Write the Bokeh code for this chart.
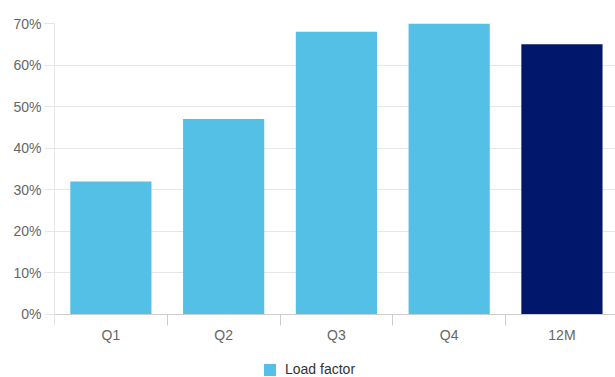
from bokeh.plotting import figure
from bokeh.models import ColumnDataSource, Range1d, FixedTicker, Legend, LegendItem, PrintfTickFormatter
from bokeh.embed import file_html
from bokeh.resources import INLINE

categories = ["Q1", "Q2", "Q3", "Q4", "12M"]
load_factor = [32, 47, 68, 70, 65]
bar_colors = ["#55C0E6", "#55C0E6", "#55C0E6", "#55C0E6", "#00176B"]
y_ticks = [0, 10, 20, 30, 40, 50, 60, 70]

x_pos = [i + 0.5 for i in range(len(categories))]
src = ColumnDataSource(dict(x=x_pos, top=load_factor, color=bar_colors, cat=categories))

FONT = "Liberation Sans"
# frame runs to the bottom of the canvas; the lower part hosts axis labels + legend
p = figure(width=615, height=377, output_backend="svg", toolbar_location=None,
           x_range=Range1d(0, 4.975), y_range=Range1d(-15.16, 70),
           min_border_left=54, min_border_right=0, min_border_top=23, min_border_bottom=0)
p.outline_line_color = None
p.background_fill_color = "white"
p.border_fill_color = "white"

r = p.vbar(x="x", top="top", width=0.72, bottom=0, color="color", source=src, line_color=None)

# x axis: drawn at y=0, labels at centres, ticks at category boundaries
xa = p.xaxis[0]
xa.fixed_location = 0
xa.ticker = FixedTicker(ticks=x_pos, minor_ticks=list(range(len(categories) + 1)))
xa.major_label_overrides = {x: c for x, c in zip(x_pos, categories)}
xa.major_tick_line_color = None
xa.minor_tick_out = 11
xa.minor_tick_in = 0
xa.minor_tick_line_color = "#cccccc"
xa.axis_line_color = "#cccccc"
xa.major_label_text_font = FONT
xa.major_label_text_font_size = "14px"
xa.major_label_text_color = "#666666"
xa.major_label_standoff = 2
p.xgrid.grid_line_color = None

ya = p.yaxis[0]
ya.bounds = (0, 70)
ya.ticker = FixedTicker(ticks=y_ticks)
ya.formatter = PrintfTickFormatter(format="%d%%")
ya.axis_line_color = "#e6e6e6"
ya.major_tick_line_color = "#e6e6e6"
ya.major_tick_out = 10
ya.major_tick_in = 0
ya.minor_tick_line_color = None
ya.major_label_text_font = FONT
ya.major_label_text_font_size = "14px"
ya.major_label_text_color = "#666666"
ya.major_label_standoff = 3
p.ygrid.grid_line_color = "#e6e6e6"
p.ygrid.ticker = FixedTicker(ticks=y_ticks)

legend = Legend(items=[LegendItem(label="Load factor", renderers=[r], index=0)],
                location=(208, 0), padding=0, margin=0, border_line_color=None,
                background_fill_alpha=0, glyph_width=15, glyph_height=15,
                label_standoff=8, label_text_font=FONT, label_text_font_size="14px",
                label_text_color="#333333", label_height=15)
p.add_layout(legend, "center")

open("out.html", "w").write(file_html(p, INLINE))
